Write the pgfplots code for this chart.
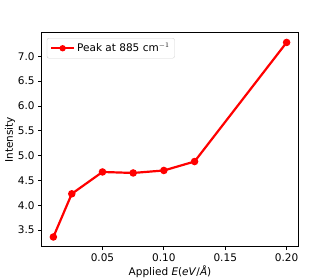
\documentclass[border=0pt]{standalone}
\usepackage{fontspec}
\setmainfont{DejaVu Sans}
\usepackage{pgfplots}
\pgfplotsset{compat=1.18}
\begin{document}
\begin{tikzpicture}
\begin{axis}[
  scale only axis,
  width=256.6pt, height=214pt,
  xmin=0.0005, xmax=0.2095,
  ymin=3.164, ymax=7.476,
  xtick={0.05,0.10,0.15,0.20},
  xticklabels={0.05,0.10,0.15,0.20},
  ytick={3.5,4.0,4.5,5.0,5.5,6.0,6.5,7.0},
  yticklabels={3.5,4.0,4.5,5.0,5.5,6.0,6.5,7.0},
  tick align=outside,
  tick pos=left,
  major tick length=3.5pt,
  every tick/.style={black, line width=0.8pt},
  axis line style={line width=0.8pt},
  tick label style={font=\fontsize{10.5}{12}\selectfont},
  label style={font=\fontsize{10.5}{12}\selectfont},
  xlabel={Applied \textit{E}(\textit{eV}/\textit{Å})},
  ylabel={Intensity},
  xlabel style={yshift=3pt},
  ylabel style={yshift=-4pt},
  /pgf/number format/assume math mode=true,
  legend style={font=\fontsize{10.5}{12}\selectfont, draw=gray!35, rounded corners=2pt, inner xsep=3pt, inner ysep=3pt, at={(0.02,0.975)}, anchor=north west},
  legend cell align=left,
  legend image code/.code={\draw[mark repeat=2,mark phase=2,#1,mark size=2pt] plot coordinates {(0pt,0pt) (11.5pt,0pt) (23pt,0pt)};},
]
\addplot[red, line width=2.2pt, mark=*, mark size=2.6pt, mark options={solid}] coordinates {
  (0.01,3.36) (0.025,4.23) (0.05,4.67) (0.075,4.65) (0.1,4.70) (0.125,4.88) (0.2,7.28)
};
\addlegendentry{Peak at 885 cm$^{-1}$}
\end{axis}
\pgfresetboundingbox
\path[use as bounding box] (current axis.south west) ++(-41.7pt,-30.3pt) rectangle ++(332pt,277pt);
\end{tikzpicture}
\end{document}
